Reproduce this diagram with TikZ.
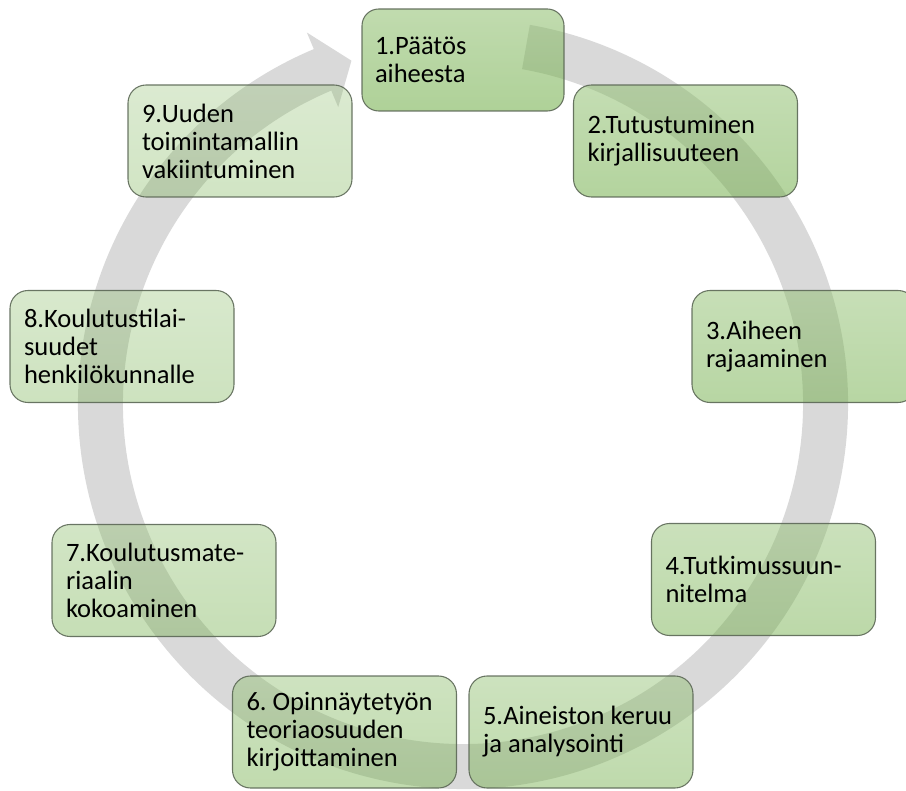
\documentclass[tikz,border=0pt]{standalone}
\usepackage{fontspec}
\setmainfont{Carlito}
\usetikzlibrary{calc}
\frenchspacing

\definecolor{accent}{RGB}{112,173,71}
\definecolor{bandgray}{RGB}{217,217,217}
\definecolor{boxline}{RGB}{92,104,86}

\begin{document}
\begin{tikzpicture}[x=0.75pt,y=0.75pt,
  stepbox/.style={rectangle, rounded corners=13.5pt, draw=boxline, line width=0.8pt,
    top color=accent!78!white, bottom color=accent, fill opacity=#1, draw opacity=0.9,
    text opacity=1, minimum width=168pt, minimum height=84pt,
    inner xsep=10.5pt, text width=147pt, align=flush left,
    font=\fontsize{19.9pt}{21pt}\selectfont},
  firstbox/.style={stepbox=#1, minimum width=151.5pt, minimum height=76.5pt,
    inner xsep=9.75pt, text width=132pt, rounded corners=12.5pt}]
\useasboundingbox (0,0) rectangle (906,790);

% centre of the cycle
\coordinate (C) at (463,386);

% grey circular arrow behind the steps
\fill[bandgray]
  ($(C)+(80:385)$) arc[start angle=80, end angle=-247.2, radius=385]
  -- ($(C)+(112.8:403)$) -- ($(C)+(108:361)$) -- ($(C)+(112.8:322)$)
  -- ($(C)+(112.8:340)$) arc[start angle=112.8, end angle=440, radius=340]
  -- cycle;

% the nine steps, clockwise from the top
\node[firstbox=0.56] (s1) at (463,730) {1.Päätös\\aiheesta};
\node[stepbox=0.53] (s2) at (685.5,649) {2.Tutustuminen\\kirjallisuuteen};
\node[stepbox=0.50] (s3) at (804,443.5) {3.Aiheen\\rajaaminen};
\node[stepbox=0.47] (s4) at (763.5,210.5) {4.Tutkimussuun-\\nitelma};
\node[stepbox=0.45] (s5) at (581,58) {5.Aineiston keruu\\ja analysointi};
\node[stepbox=0.44] (s6) at (344.5,58) {6. Opinnäytetyön\\teoriaosuuden\\kirjoittaminen};
\node[stepbox=0.40] (s7) at (164,209.5) {7.Koulutusmate-\\riaalin\\kokoaminen};
\node[stepbox=0.35] (s8) at (122,443.5) {8.Koulutustilai-\\suudet\\henkilökunnalle};
\node[stepbox=0.32] (s9) at (240,649) {9.Uuden\\toimintamallin\\vakiintuminen};
\end{tikzpicture}
\end{document}
